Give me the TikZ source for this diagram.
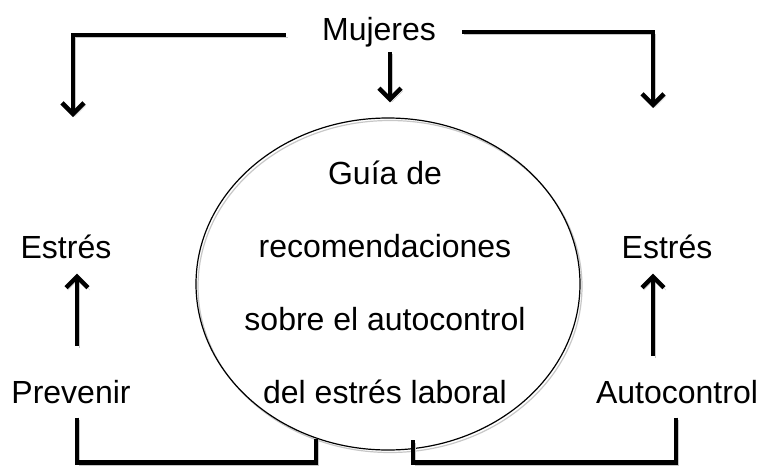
\documentclass[tikz,border=0pt]{standalone}
\usepackage{fontspec}
\setmainfont{Liberation Sans}
\usetikzlibrary{arrows.meta,shapes.geometric}

\tikzset{
  texto/.style={anchor=base,inner sep=0pt,font=\fontsize{32}{38}\selectfont},
  sombra/.style={preaction={draw=black!22,transform canvas={shift={(2pt,-2.5pt)}}}},
  flecha/.style={line width=4.5pt,-{Straight Barb[length=11pt,width=22pt]},sombra},
  linea/.style={line width=4.5pt,sombra}
}

\begin{document}
\begin{tikzpicture}[x=1pt,y=-1pt]
	\useasboundingbox (0,0) rectangle (761,466);
	% textos
	\node[texto] (muj) at (379,40) {Mujeres};
	\node[texto] (estI) at (66,258) {Estrés};
	\node[texto] (estD) at (667,258) {Estrés};
	\node[texto] (prev) at (71,403) {Prevenir};
	\node[texto] (auto) at (677,403) {Autocontrol};
	% guia
	\node[ellipse,draw,line width=1.2pt,sombra,minimum width=384pt,minimum height=332pt] (guia) at (388,284) {};
	\foreach \t [count=\i] in {Guía de,recomendaciones,sobre el autocontrol,del estrés laboral}
		\node[texto] (g\i) at (385,111+73*\i) {\t};
	\coordinate (fI) at (73,117);
	\coordinate (fD) at (653,108);
	\coordinate (rb) at (413,440);
	% flechas
	\draw[flecha] ([xshift=-36pt,yshift=5pt]muj.base west) -| (fI);
	\draw[flecha] ([xshift=26pt,yshift=8pt]muj.base east) -| (fD);
	\draw[flecha,shorten <=5pt,shorten >=15pt] ([xshift=11pt]muj.south) -- ([xshift=2pt]guia.north);
	\draw[flecha,shorten <=34pt,shorten >=15pt] ([xshift=6pt]prev.north) -- ([xshift=11pt]estI.south);
	\draw[flecha,shorten <=24pt,shorten >=15pt] ([xshift=-24pt]auto.north) -- ([xshift=-14pt]estD.south);
	\draw[linea] ([xshift=6pt,yshift=-14pt]prev.south) -- ++(0,45) -| (guia.245);
	\draw[linea] ([xshift=-1pt,yshift=-14pt]auto.south) -- ++(0,45) -| (rb);
\end{tikzpicture}
\end{document}
